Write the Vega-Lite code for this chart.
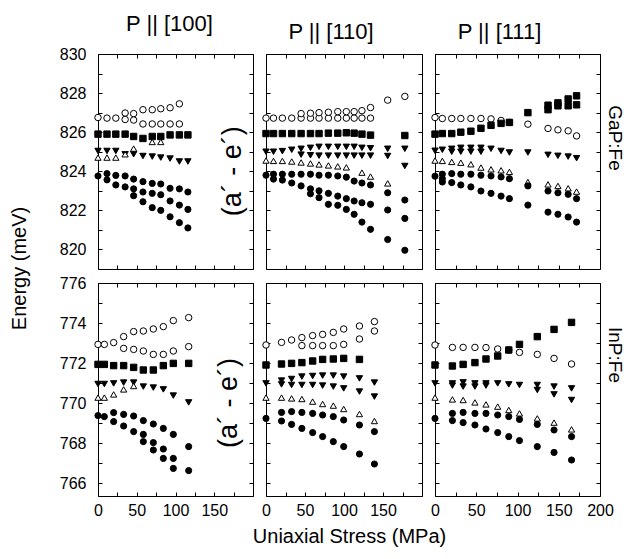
{
"$schema": "https://vega.github.io/schema/vega-lite/v6.json",
"background": "white",
"padding": {"left": 8, "top": 12, "right": 8, "bottom": 10},
"config": {
 "view": {"stroke": "black", "strokeWidth": 1},
 "font": "Liberation Sans",
 "axis": {"grid": false, "domain": false, "tickColor": "black", "tickSize": -4, "labelColor": "black", "labelFontSize": 16, "labelFont": "Liberation Sans", "titleFont": "Liberation Sans", "titleFontWeight": "normal", "titleColor": "black", "titleFontSize": 20, "labelFlush": false},
 "axisLeft": {"labelPadding": 16},
 "axisBottom": {"labelPadding": 10},
 "title": {"font": "Liberation Sans", "fontWeight": "normal", "fontSize": 22, "color": "black", "frame": "group", "offset": 10},
 "text": {"font": "Liberation Sans", "color": "black"}
},
"datasets": {"d": [
{"p":"G100","s":"oc","x":0,"y":826.75},{"p":"G100","s":"oc","x":11.6,"y":826.72},{"p":"G100","s":"oc","x":23,"y":826.72},{"p":"G100","s":"oc","x":35,"y":826.98},{"p":"G100","s":"oc","x":46,"y":826.95},{"p":"G100","s":"oc","x":58,"y":827.15},{"p":"G100","s":"oc","x":70,"y":827.15},{"p":"G100","s":"oc","x":81,"y":827.2},{"p":"G100","s":"oc","x":93,"y":827.25},{"p":"G100","s":"oc","x":105,"y":827.45},
{"p":"G100","s":"oc","x":35,"y":826.65},{"p":"G100","s":"oc","x":46,"y":826.62},{"p":"G100","s":"oc","x":58,"y":826.42},{"p":"G100","s":"oc","x":70,"y":826.42},{"p":"G100","s":"oc","x":81,"y":826.42},{"p":"G100","s":"oc","x":93,"y":826.42},{"p":"G100","s":"oc","x":105,"y":826.42},
{"p":"G100","s":"sq","x":0,"y":825.9},{"p":"G100","s":"sq","x":11.6,"y":825.9},{"p":"G100","s":"sq","x":23,"y":825.9},{"p":"G100","s":"sq","x":35,"y":825.9},{"p":"G100","s":"sq","x":46,"y":825.78},{"p":"G100","s":"sq","x":58,"y":825.68},{"p":"G100","s":"sq","x":70,"y":825.78},{"p":"G100","s":"sq","x":81,"y":825.78},{"p":"G100","s":"sq","x":93,"y":825.86},{"p":"G100","s":"sq","x":105,"y":825.86},{"p":"G100","s":"sq","x":116,"y":825.86},
{"p":"G100","s":"td","x":0,"y":825.04},{"p":"G100","s":"td","x":11.6,"y":825.04},{"p":"G100","s":"td","x":23,"y":825.04},{"p":"G100","s":"td","x":35,"y":824.87},{"p":"G100","s":"td","x":46,"y":824.87},{"p":"G100","s":"td","x":58,"y":824.78},{"p":"G100","s":"td","x":70,"y":824.75},{"p":"G100","s":"td","x":81,"y":824.7},{"p":"G100","s":"td","x":93,"y":824.65},{"p":"G100","s":"td","x":105,"y":824.5},{"p":"G100","s":"td","x":116,"y":824.5},
{"p":"G100","s":"ot","x":0,"y":824.7},{"p":"G100","s":"ot","x":11.6,"y":824.7},{"p":"G100","s":"ot","x":23,"y":824.7},{"p":"G100","s":"ot","x":35,"y":824.87},{"p":"G100","s":"ot","x":46,"y":825.16},{"p":"G100","s":"ot","x":70,"y":825.5},{"p":"G100","s":"ot","x":81,"y":825.5},
{"p":"G100","s":"fc","x":0,"y":823.76},{"p":"G100","s":"fc","x":11.6,"y":823.88},{"p":"G100","s":"fc","x":23,"y":823.79},{"p":"G100","s":"fc","x":35,"y":823.76},{"p":"G100","s":"fc","x":46,"y":823.6},{"p":"G100","s":"fc","x":58,"y":823.47},{"p":"G100","s":"fc","x":70,"y":823.38},{"p":"G100","s":"fc","x":81,"y":823.35},{"p":"G100","s":"fc","x":93,"y":823.13},{"p":"G100","s":"fc","x":105,"y":823.1},{"p":"G100","s":"fc","x":116,"y":822.94},
{"p":"G100","s":"fc","x":11.6,"y":823.56},{"p":"G100","s":"fc","x":23,"y":823.3},{"p":"G100","s":"fc","x":35,"y":823.2},{"p":"G100","s":"fc","x":46,"y":823.1},{"p":"G100","s":"fc","x":58,"y":822.94},{"p":"G100","s":"fc","x":70,"y":822.87},{"p":"G100","s":"fc","x":81,"y":822.8},{"p":"G100","s":"fc","x":93,"y":822.48},{"p":"G100","s":"fc","x":105,"y":822.27},{"p":"G100","s":"fc","x":116,"y":822.05},
{"p":"G100","s":"fc","x":46,"y":822.75},{"p":"G100","s":"fc","x":58,"y":822.44},{"p":"G100","s":"fc","x":70,"y":822.14},{"p":"G100","s":"fc","x":81,"y":822.0},{"p":"G100","s":"fc","x":93,"y":821.67},{"p":"G100","s":"fc","x":105,"y":821.37},{"p":"G100","s":"fc","x":116,"y":821.1},

{"p":"G110","s":"oc","x":0,"y":826.72},{"p":"G110","s":"oc","x":9.6,"y":826.72},{"p":"G110","s":"oc","x":21,"y":826.72},{"p":"G110","s":"oc","x":33,"y":826.72},{"p":"G110","s":"oc","x":45,"y":826.72},{"p":"G110","s":"oc","x":57,"y":826.72},{"p":"G110","s":"oc","x":68,"y":826.72},{"p":"G110","s":"oc","x":80,"y":826.72},{"p":"G110","s":"oc","x":92,"y":826.72},{"p":"G110","s":"oc","x":103,"y":826.72},{"p":"G110","s":"oc","x":113,"y":826.72},{"p":"G110","s":"oc","x":123,"y":826.72},{"p":"G110","s":"oc","x":134,"y":826.72},
{"p":"G110","s":"oc","x":45,"y":826.95},{"p":"G110","s":"oc","x":57,"y":826.97},{"p":"G110","s":"oc","x":68,"y":827.0},{"p":"G110","s":"oc","x":80,"y":827.02},{"p":"G110","s":"oc","x":92,"y":827.05},{"p":"G110","s":"oc","x":103,"y":827.05},{"p":"G110","s":"oc","x":113,"y":827.05},{"p":"G110","s":"oc","x":123,"y":827.1},{"p":"G110","s":"oc","x":134,"y":827.26},{"p":"G110","s":"oc","x":156,"y":827.64},{"p":"G110","s":"oc","x":178,"y":827.83},
{"p":"G110","s":"sq","x":0,"y":825.93},{"p":"G110","s":"sq","x":9.6,"y":825.93},{"p":"G110","s":"sq","x":21,"y":825.93},{"p":"G110","s":"sq","x":33,"y":825.93},{"p":"G110","s":"sq","x":45,"y":825.93},{"p":"G110","s":"sq","x":57,"y":825.93},{"p":"G110","s":"sq","x":68,"y":825.93},{"p":"G110","s":"sq","x":80,"y":825.95},{"p":"G110","s":"sq","x":92,"y":825.95},{"p":"G110","s":"sq","x":103,"y":825.97},{"p":"G110","s":"sq","x":113,"y":825.95},{"p":"G110","s":"sq","x":123,"y":825.9},{"p":"G110","s":"sq","x":134,"y":825.85},{"p":"G110","s":"sq","x":178,"y":825.83},
{"p":"G110","s":"td","x":0,"y":825.0},{"p":"G110","s":"td","x":9.6,"y":825.0},{"p":"G110","s":"td","x":21,"y":825.03},{"p":"G110","s":"td","x":33,"y":825.1},{"p":"G110","s":"td","x":45,"y":825.15},{"p":"G110","s":"td","x":57,"y":825.2},{"p":"G110","s":"td","x":68,"y":825.25},{"p":"G110","s":"td","x":80,"y":825.25},{"p":"G110","s":"td","x":92,"y":825.25},{"p":"G110","s":"td","x":103,"y":825.25},{"p":"G110","s":"td","x":113,"y":825.25},{"p":"G110","s":"td","x":123,"y":825.2},{"p":"G110","s":"td","x":134,"y":825.18},{"p":"G110","s":"td","x":156,"y":825.15},{"p":"G110","s":"td","x":178,"y":825.15},
{"p":"G110","s":"td","x":45,"y":824.85},{"p":"G110","s":"td","x":57,"y":824.82},{"p":"G110","s":"td","x":68,"y":824.8},{"p":"G110","s":"td","x":80,"y":824.8},{"p":"G110","s":"td","x":92,"y":824.8},{"p":"G110","s":"td","x":103,"y":824.8},{"p":"G110","s":"td","x":113,"y":824.8},{"p":"G110","s":"td","x":123,"y":824.8},{"p":"G110","s":"td","x":134,"y":824.8},{"p":"G110","s":"td","x":156,"y":824.78},{"p":"G110","s":"td","x":178,"y":824.27},
{"p":"G110","s":"ot","x":0,"y":824.55},{"p":"G110","s":"ot","x":9.6,"y":824.53},{"p":"G110","s":"ot","x":21,"y":824.53},{"p":"G110","s":"ot","x":33,"y":824.5},{"p":"G110","s":"ot","x":45,"y":824.45},{"p":"G110","s":"ot","x":57,"y":824.4},{"p":"G110","s":"ot","x":68,"y":824.35},{"p":"G110","s":"ot","x":80,"y":824.3},{"p":"G110","s":"ot","x":92,"y":824.25},{"p":"G110","s":"ot","x":103,"y":824.2},{"p":"G110","s":"ot","x":123,"y":823.93},{"p":"G110","s":"ot","x":134,"y":823.73},{"p":"G110","s":"ot","x":156,"y":823.38},
{"p":"G110","s":"fc","x":0,"y":823.8},{"p":"G110","s":"fc","x":9.6,"y":823.85},{"p":"G110","s":"fc","x":21,"y":823.85},{"p":"G110","s":"fc","x":33,"y":823.85},{"p":"G110","s":"fc","x":45,"y":823.85},{"p":"G110","s":"fc","x":57,"y":823.85},{"p":"G110","s":"fc","x":68,"y":823.8},{"p":"G110","s":"fc","x":80,"y":823.8},{"p":"G110","s":"fc","x":92,"y":823.76},{"p":"G110","s":"fc","x":103,"y":823.7},{"p":"G110","s":"fc","x":113,"y":823.5},{"p":"G110","s":"fc","x":123,"y":823.4},{"p":"G110","s":"fc","x":134,"y":823.3},{"p":"G110","s":"fc","x":156,"y":822.9},{"p":"G110","s":"fc","x":178,"y":822.53},
{"p":"G110","s":"fc","x":9.6,"y":823.6},{"p":"G110","s":"fc","x":21,"y":823.55},{"p":"G110","s":"fc","x":33,"y":823.4},{"p":"G110","s":"fc","x":45,"y":823.25},{"p":"G110","s":"fc","x":57,"y":823.1},{"p":"G110","s":"fc","x":68,"y":823.0},{"p":"G110","s":"fc","x":80,"y":822.87},{"p":"G110","s":"fc","x":92,"y":822.73},{"p":"G110","s":"fc","x":103,"y":822.6},{"p":"G110","s":"fc","x":113,"y":822.48},{"p":"G110","s":"fc","x":123,"y":822.39},{"p":"G110","s":"fc","x":134,"y":822.31},{"p":"G110","s":"fc","x":156,"y":822.02},{"p":"G110","s":"fc","x":178,"y":821.59},
{"p":"G110","s":"fc","x":57,"y":822.85},{"p":"G110","s":"fc","x":68,"y":822.65},{"p":"G110","s":"fc","x":80,"y":822.31},{"p":"G110","s":"fc","x":92,"y":822.26},{"p":"G110","s":"fc","x":103,"y":822.05},{"p":"G110","s":"fc","x":113,"y":821.8},{"p":"G110","s":"fc","x":123,"y":821.4},{"p":"G110","s":"fc","x":134,"y":821.03},{"p":"G110","s":"fc","x":156,"y":820.51},{"p":"G110","s":"fc","x":178,"y":819.96},

{"p":"G111","s":"oc","x":0,"y":826.75},{"p":"G111","s":"oc","x":8.9,"y":826.7},{"p":"G111","s":"oc","x":20.3,"y":826.7},{"p":"G111","s":"oc","x":31.3,"y":826.7},{"p":"G111","s":"oc","x":43.5,"y":826.7},{"p":"G111","s":"oc","x":55.7,"y":826.7},{"p":"G111","s":"oc","x":67.9,"y":826.68},{"p":"G111","s":"oc","x":80.1,"y":826.6},{"p":"G111","s":"oc","x":90.2,"y":826.5},{"p":"G111","s":"oc","x":112.6,"y":826.41},{"p":"G111","s":"oc","x":137,"y":826.19},{"p":"G111","s":"oc","x":149,"y":826.12},{"p":"G111","s":"oc","x":161.4,"y":826.07},{"p":"G111","s":"oc","x":171.6,"y":825.81},
{"p":"G111","s":"sq","x":0,"y":825.9},{"p":"G111","s":"sq","x":8.9,"y":825.93},{"p":"G111","s":"sq","x":20.3,"y":825.93},{"p":"G111","s":"sq","x":31.3,"y":826.0},{"p":"G111","s":"sq","x":43.5,"y":826.05},{"p":"G111","s":"sq","x":55.7,"y":826.2},{"p":"G111","s":"sq","x":67.9,"y":826.35},{"p":"G111","s":"sq","x":80.1,"y":826.45},{"p":"G111","s":"sq","x":90.2,"y":826.5},{"p":"G111","s":"sq","x":112.6,"y":827.0},{"p":"G111","s":"sq","x":137,"y":827.15},{"p":"G111","s":"sq","x":137,"y":827.38},{"p":"G111","s":"sq","x":149,"y":827.35},{"p":"G111","s":"sq","x":149,"y":827.5},{"p":"G111","s":"sq","x":161.4,"y":827.35},{"p":"G111","s":"sq","x":161.4,"y":827.7},{"p":"G111","s":"sq","x":171.6,"y":827.4},{"p":"G111","s":"sq","x":171.6,"y":827.86},
{"p":"G111","s":"td","x":0,"y":825.05},{"p":"G111","s":"td","x":8.9,"y":825.1},{"p":"G111","s":"td","x":20.3,"y":825.15},{"p":"G111","s":"td","x":31.3,"y":825.2},{"p":"G111","s":"td","x":43.5,"y":825.2},{"p":"G111","s":"td","x":55.7,"y":825.2},{"p":"G111","s":"td","x":67.9,"y":825.15},{"p":"G111","s":"td","x":80.1,"y":825.04},{"p":"G111","s":"td","x":90.2,"y":824.96},{"p":"G111","s":"td","x":112.6,"y":824.96},{"p":"G111","s":"td","x":137,"y":824.84},{"p":"G111","s":"td","x":149,"y":824.79},{"p":"G111","s":"td","x":161.4,"y":824.75},{"p":"G111","s":"td","x":171.6,"y":824.67},{"p":"G111","s":"td","x":20.3,"y":825.0},{"p":"G111","s":"td","x":31.3,"y":825.0},{"p":"G111","s":"td","x":43.5,"y":825.0},{"p":"G111","s":"td","x":55.7,"y":825.0},
{"p":"G111","s":"ot","x":0,"y":824.55},{"p":"G111","s":"ot","x":8.9,"y":824.53},{"p":"G111","s":"ot","x":20.3,"y":824.48},{"p":"G111","s":"ot","x":31.3,"y":824.44},{"p":"G111","s":"ot","x":43.5,"y":824.36},{"p":"G111","s":"ot","x":55.7,"y":824.19},{"p":"G111","s":"ot","x":67.9,"y":824.1},{"p":"G111","s":"ot","x":80.1,"y":824.05},{"p":"G111","s":"ot","x":90.2,"y":823.97},{"p":"G111","s":"ot","x":112.6,"y":823.45},{"p":"G111","s":"ot","x":137,"y":823.33},{"p":"G111","s":"ot","x":149,"y":823.25},{"p":"G111","s":"ot","x":161.4,"y":823.13},{"p":"G111","s":"ot","x":171.6,"y":822.96},
{"p":"G111","s":"fc","x":0,"y":823.75},{"p":"G111","s":"fc","x":8.9,"y":823.85},{"p":"G111","s":"fc","x":20.3,"y":823.88},{"p":"G111","s":"fc","x":31.3,"y":823.85},{"p":"G111","s":"fc","x":43.5,"y":823.85},{"p":"G111","s":"fc","x":55.7,"y":823.8},{"p":"G111","s":"fc","x":67.9,"y":823.76},{"p":"G111","s":"fc","x":80.1,"y":823.71},{"p":"G111","s":"fc","x":90.2,"y":823.62},{"p":"G111","s":"fc","x":112.6,"y":823.25},{"p":"G111","s":"fc","x":137,"y":822.99},{"p":"G111","s":"fc","x":149,"y":822.9},{"p":"G111","s":"fc","x":161.4,"y":822.82},{"p":"G111","s":"fc","x":171.6,"y":822.6},
{"p":"G111","s":"fc","x":8.9,"y":823.62},
{"p":"G111","s":"fc","x":8.9,"y":823.45},{"p":"G111","s":"fc","x":20.3,"y":823.42},{"p":"G111","s":"fc","x":31.3,"y":823.3},{"p":"G111","s":"fc","x":43.5,"y":823.2},{"p":"G111","s":"fc","x":55.7,"y":822.99},{"p":"G111","s":"fc","x":67.9,"y":822.87},{"p":"G111","s":"fc","x":80.1,"y":822.73},{"p":"G111","s":"fc","x":90.2,"y":822.6},{"p":"G111","s":"fc","x":112.6,"y":822.27},{"p":"G111","s":"fc","x":137,"y":821.91},{"p":"G111","s":"fc","x":149,"y":821.8},{"p":"G111","s":"fc","x":161.4,"y":821.66},{"p":"G111","s":"fc","x":171.6,"y":821.4},

{"p":"I100","s":"oc","x":0,"y":772.93},{"p":"I100","s":"oc","x":8.2,"y":772.93},{"p":"I100","s":"oc","x":20.2,"y":773.02},{"p":"I100","s":"oc","x":33.1,"y":773.32},{"p":"I100","s":"oc","x":46,"y":773.57},{"p":"I100","s":"oc","x":58.5,"y":773.6},{"p":"I100","s":"oc","x":71.4,"y":773.7},{"p":"I100","s":"oc","x":84.3,"y":773.82},{"p":"I100","s":"oc","x":97.2,"y":774.12},{"p":"I100","s":"oc","x":117,"y":774.27},
{"p":"I100","s":"oc","x":33.1,"y":772.73},{"p":"I100","s":"oc","x":46,"y":772.68},{"p":"I100","s":"oc","x":58.5,"y":772.6},{"p":"I100","s":"oc","x":71.4,"y":772.43},{"p":"I100","s":"oc","x":84.3,"y":772.43},{"p":"I100","s":"oc","x":97.2,"y":772.6},{"p":"I100","s":"oc","x":117,"y":772.82},
{"p":"I100","s":"sq","x":0,"y":771.93},{"p":"I100","s":"sq","x":8.2,"y":771.93},{"p":"I100","s":"sq","x":20.2,"y":771.87},{"p":"I100","s":"sq","x":33.1,"y":771.87},{"p":"I100","s":"sq","x":46,"y":771.78},{"p":"I100","s":"sq","x":58.5,"y":771.65},{"p":"I100","s":"sq","x":71.4,"y":771.65},{"p":"I100","s":"sq","x":84.3,"y":771.87},{"p":"I100","s":"sq","x":97.2,"y":771.98},{"p":"I100","s":"sq","x":117,"y":771.98},
{"p":"I100","s":"td","x":0,"y":770.95},{"p":"I100","s":"td","x":8.2,"y":770.95},{"p":"I100","s":"td","x":20.2,"y":770.98},{"p":"I100","s":"td","x":33.1,"y":771.02},{"p":"I100","s":"td","x":46,"y":771.02},{"p":"I100","s":"td","x":58.5,"y":770.82},{"p":"I100","s":"td","x":71.4,"y":770.77},{"p":"I100","s":"td","x":84.3,"y":770.68},{"p":"I100","s":"td","x":97.2,"y":770.37},{"p":"I100","s":"td","x":117,"y":770.03},
{"p":"I100","s":"ot","x":0,"y":770.27},{"p":"I100","s":"ot","x":8.2,"y":770.27},{"p":"I100","s":"ot","x":20.2,"y":770.43},{"p":"I100","s":"ot","x":33.1,"y":770.68},{"p":"I100","s":"ot","x":46,"y":770.85},
{"p":"I100","s":"fc","x":0,"y":769.37},{"p":"I100","s":"fc","x":8.2,"y":769.32},{"p":"I100","s":"fc","x":20.2,"y":769.52},{"p":"I100","s":"fc","x":20.2,"y":769.07},{"p":"I100","s":"fc","x":33.1,"y":769.43},{"p":"I100","s":"fc","x":33.1,"y":768.85},{"p":"I100","s":"fc","x":46,"y":769.35},{"p":"I100","s":"fc","x":46,"y":768.57},{"p":"I100","s":"fc","x":58.5,"y":769.12},{"p":"I100","s":"fc","x":58.5,"y":768.43},{"p":"I100","s":"fc","x":58.5,"y":768.07},{"p":"I100","s":"fc","x":71.4,"y":768.95},{"p":"I100","s":"fc","x":71.4,"y":768.02},{"p":"I100","s":"fc","x":71.4,"y":767.65},{"p":"I100","s":"fc","x":84.3,"y":768.73},{"p":"I100","s":"fc","x":84.3,"y":767.7},{"p":"I100","s":"fc","x":84.3,"y":767.23},{"p":"I100","s":"fc","x":97.2,"y":768.43},{"p":"I100","s":"fc","x":97.2,"y":767.23},{"p":"I100","s":"fc","x":97.2,"y":766.73},{"p":"I100","s":"fc","x":117,"y":767.82},{"p":"I100","s":"fc","x":117,"y":766.62},

{"p":"I110","s":"oc","x":0,"y":772.9},{"p":"I110","s":"oc","x":19.9,"y":773.03},{"p":"I110","s":"oc","x":32.8,"y":773.15},{"p":"I110","s":"oc","x":46,"y":773.27},{"p":"I110","s":"oc","x":59.8,"y":773.37},{"p":"I110","s":"oc","x":72.6,"y":773.43},{"p":"I110","s":"oc","x":86.3,"y":773.53},{"p":"I110","s":"oc","x":99.6,"y":773.7},{"p":"I110","s":"oc","x":119.8,"y":773.85},{"p":"I110","s":"oc","x":139,"y":774.07},
{"p":"I110","s":"oc","x":46,"y":772.87},{"p":"I110","s":"oc","x":59.8,"y":772.87},{"p":"I110","s":"oc","x":72.6,"y":772.87},{"p":"I110","s":"oc","x":86.3,"y":772.87},{"p":"I110","s":"oc","x":99.6,"y":772.93},{"p":"I110","s":"oc","x":119.8,"y":773.2},{"p":"I110","s":"oc","x":139,"y":773.6},
{"p":"I110","s":"sq","x":0,"y":771.9},{"p":"I110","s":"sq","x":19.9,"y":771.95},{"p":"I110","s":"sq","x":32.8,"y":771.98},{"p":"I110","s":"sq","x":46,"y":772.02},{"p":"I110","s":"sq","x":59.8,"y":772.1},{"p":"I110","s":"sq","x":72.6,"y":772.18},{"p":"I110","s":"sq","x":86.3,"y":772.2},{"p":"I110","s":"sq","x":99.6,"y":772.23},{"p":"I110","s":"sq","x":119.8,"y":772.18},
{"p":"I110","s":"td","x":19.9,"y":771.12},{"p":"I110","s":"td","x":32.8,"y":771.2},{"p":"I110","s":"td","x":46,"y":771.32},{"p":"I110","s":"td","x":59.8,"y":771.35},{"p":"I110","s":"td","x":72.6,"y":771.37},{"p":"I110","s":"td","x":86.3,"y":771.37},{"p":"I110","s":"td","x":99.6,"y":771.32},{"p":"I110","s":"td","x":119.8,"y":771.23},{"p":"I110","s":"td","x":139,"y":771.02},
{"p":"I110","s":"td","x":0,"y":770.98},{"p":"I110","s":"td","x":19.9,"y":770.93},{"p":"I110","s":"td","x":32.8,"y":770.9},{"p":"I110","s":"td","x":46,"y":770.9},{"p":"I110","s":"td","x":59.8,"y":770.9},{"p":"I110","s":"td","x":72.6,"y":770.87},{"p":"I110","s":"td","x":86.3,"y":770.82},{"p":"I110","s":"td","x":99.6,"y":770.73},{"p":"I110","s":"td","x":119.8,"y":770.57},{"p":"I110","s":"td","x":139,"y":770.32},
{"p":"I110","s":"ot","x":0,"y":770.27},{"p":"I110","s":"ot","x":19.9,"y":770.27},{"p":"I110","s":"ot","x":32.8,"y":770.23},{"p":"I110","s":"ot","x":46,"y":770.2},{"p":"I110","s":"ot","x":59.8,"y":770.07},{"p":"I110","s":"ot","x":72.6,"y":769.95},{"p":"I110","s":"ot","x":86.3,"y":769.87},{"p":"I110","s":"ot","x":99.6,"y":769.7},{"p":"I110","s":"ot","x":119.8,"y":769.45},{"p":"I110","s":"ot","x":139,"y":769.1},
{"p":"I110","s":"fc","x":0,"y":769.23},{"p":"I110","s":"fc","x":19.9,"y":769.53},{"p":"I110","s":"fc","x":32.8,"y":769.57},{"p":"I110","s":"fc","x":46,"y":769.53},{"p":"I110","s":"fc","x":59.8,"y":769.48},{"p":"I110","s":"fc","x":72.6,"y":769.4},{"p":"I110","s":"fc","x":86.3,"y":769.32},{"p":"I110","s":"fc","x":99.6,"y":769.15},{"p":"I110","s":"fc","x":119.8,"y":768.9},{"p":"I110","s":"fc","x":139,"y":768.57},
{"p":"I110","s":"fc","x":19.9,"y":769.1},{"p":"I110","s":"fc","x":32.8,"y":768.93},{"p":"I110","s":"fc","x":46,"y":768.73},{"p":"I110","s":"fc","x":59.8,"y":768.52},{"p":"I110","s":"fc","x":72.6,"y":768.32},{"p":"I110","s":"fc","x":86.3,"y":768.07},{"p":"I110","s":"fc","x":99.6,"y":767.82},{"p":"I110","s":"fc","x":119.8,"y":767.45},{"p":"I110","s":"fc","x":139,"y":766.95},

{"p":"I111","s":"oc","x":0,"y":772.9},{"p":"I111","s":"oc","x":21.1,"y":772.78},{"p":"I111","s":"oc","x":34.1,"y":772.78},{"p":"I111","s":"oc","x":48.4,"y":772.78},{"p":"I111","s":"oc","x":61.8,"y":772.77},{"p":"I111","s":"oc","x":76,"y":772.7},{"p":"I111","s":"oc","x":89.4,"y":772.65},{"p":"I111","s":"oc","x":102.4,"y":772.53},{"p":"I111","s":"oc","x":124,"y":772.43},{"p":"I111","s":"oc","x":144.3,"y":772.23},{"p":"I111","s":"oc","x":165.5,"y":771.95},
{"p":"I111","s":"sq","x":0,"y":771.9},{"p":"I111","s":"sq","x":21.1,"y":771.85},{"p":"I111","s":"sq","x":34.1,"y":771.93},{"p":"I111","s":"sq","x":48.4,"y":772.02},{"p":"I111","s":"sq","x":61.8,"y":772.2},{"p":"I111","s":"sq","x":76,"y":772.35},{"p":"I111","s":"sq","x":89.4,"y":772.65},{"p":"I111","s":"sq","x":102.4,"y":772.93},{"p":"I111","s":"sq","x":124,"y":773.32},{"p":"I111","s":"sq","x":144.3,"y":773.68},{"p":"I111","s":"sq","x":165.5,"y":774.03},
{"p":"I111","s":"td","x":0,"y":770.98},{"p":"I111","s":"td","x":21.1,"y":770.98},{"p":"I111","s":"td","x":21.1,"y":770.87},{"p":"I111","s":"td","x":34.1,"y":771.03},{"p":"I111","s":"td","x":34.1,"y":770.82},{"p":"I111","s":"td","x":48.4,"y":770.98},{"p":"I111","s":"td","x":48.4,"y":770.82},{"p":"I111","s":"td","x":61.8,"y":770.98},{"p":"I111","s":"td","x":61.8,"y":770.87},{"p":"I111","s":"td","x":76,"y":770.98},{"p":"I111","s":"td","x":89.4,"y":770.93},{"p":"I111","s":"td","x":102.4,"y":770.9},{"p":"I111","s":"td","x":124,"y":770.9},{"p":"I111","s":"td","x":124,"y":770.65},{"p":"I111","s":"td","x":144.3,"y":770.82},{"p":"I111","s":"td","x":144.3,"y":770.43},{"p":"I111","s":"td","x":165.5,"y":770.73},{"p":"I111","s":"td","x":165.5,"y":770.15},
{"p":"I111","s":"ot","x":0,"y":770.27},{"p":"I111","s":"ot","x":21.1,"y":770.18},{"p":"I111","s":"ot","x":34.1,"y":770.15},{"p":"I111","s":"ot","x":48.4,"y":770.03},{"p":"I111","s":"ot","x":61.8,"y":769.93},{"p":"I111","s":"ot","x":76,"y":769.82},{"p":"I111","s":"ot","x":89.4,"y":769.65},{"p":"I111","s":"ot","x":102.4,"y":769.48},{"p":"I111","s":"ot","x":124,"y":769.23},{"p":"I111","s":"ot","x":144.3,"y":769.02},{"p":"I111","s":"ot","x":165.5,"y":768.68},
{"p":"I111","s":"fc","x":0,"y":769.23},{"p":"I111","s":"fc","x":21.1,"y":769.48},{"p":"I111","s":"fc","x":34.1,"y":769.53},{"p":"I111","s":"fc","x":48.4,"y":769.48},{"p":"I111","s":"fc","x":61.8,"y":769.48},{"p":"I111","s":"fc","x":76,"y":769.4},{"p":"I111","s":"fc","x":89.4,"y":769.32},{"p":"I111","s":"fc","x":102.4,"y":769.18},{"p":"I111","s":"fc","x":124,"y":768.93},{"p":"I111","s":"fc","x":144.3,"y":768.65},{"p":"I111","s":"fc","x":165.5,"y":768.32},
{"p":"I111","s":"fc","x":21.1,"y":769.12},{"p":"I111","s":"fc","x":34.1,"y":769.02},{"p":"I111","s":"fc","x":48.4,"y":768.9},{"p":"I111","s":"fc","x":61.8,"y":768.7},{"p":"I111","s":"fc","x":76,"y":768.52},{"p":"I111","s":"fc","x":89.4,"y":768.32},{"p":"I111","s":"fc","x":102.4,"y":768.12},{"p":"I111","s":"fc","x":124,"y":767.82},{"p":"I111","s":"fc","x":144.3,"y":767.53},{"p":"I111","s":"fc","x":165.5,"y":767.15}
]},
"bounds": "flush",
"align": "each",
"columns": 3,
"spacing": {"row": 14, "column": 13},
"concat": [
 {"width": 155, "height": 215, "title": {"text": "P || [100]", "dx": -6},
  "resolve": {"axis": {"x": "independent", "y": "independent"}},
  "layer": [
   {"data": {"name": "d"}, "transform": [{"filter": "datum.p=='G100'"}],
    "mark": {"type": "point", "filled": true, "opacity": 1, "stroke": "black", "strokeWidth": 1},
    "encoding": {
     "x": {"field": "x", "type": "quantitative", "scale": {"domain": [0, 200], "nice": false}, "axis": {"orient": "bottom", "values": [0,25,50,75,100,125,150,175,200], "labels": false, "title": null}},
     "y": {"field": "y", "type": "quantitative", "scale": {"domain": [819, 830], "nice": false, "zero": false}, "axis": {"orient": "left", "values": [820,821,822,823,824,825,826,827,828,829,830], "labelExpr": "datum.value % 2 == 0 ? datum.label : ''", "title": "Energy (meV)", "titleX": -79, "titleY": 214, "titleBaseline": "middle", "titleAlign": "center", "titleAngle": 270}},
     "shape": {"field": "s", "type": "nominal", "scale": {"domain": ["oc","sq","td","ot","fc"], "range": ["circle","square","triangle-down","triangle-up","circle"]}, "legend": null},
     "fill": {"field": "s", "type": "nominal", "scale": {"domain": ["oc","sq","td","ot","fc"], "range": ["white","black","black","white","black"]}, "legend": null},
     "size": {"field": "s", "type": "nominal", "scale": {"domain": ["oc","sq","td","ot","fc"], "range": [42,38,50,46,46]}, "legend": null}
    }},
   {"data": {"values": [{}]}, "mark": {"type": "point", "opacity": 0},
    "encoding": {"x": {"datum": 100, "type": "quantitative", "axis": {"orient": "top", "values": [0,25,50,75,100,125,150,175,200], "labels": false, "title": null}},
     "y": {"datum": 825, "type": "quantitative", "axis": {"orient": "right", "values": [820,821,822,823,824,825,826,827,828,829,830], "labels": false, "title": null}}}},
   {"data": {"values": [{"t": "(a´ - e´)"}]}, "mark": {"type": "text", "angle": 270, "fontSize": 27, "align": "center", "baseline": "middle"},
    "encoding": {"x": {"datum": 174, "type": "quantitative", "axis": null}, "y": {"datum": 824.0, "type": "quantitative", "axis": null}, "text": {"field": "t"}}}
  ]},
 {"width": 156, "height": 215, "title": {"text": "P || [110]", "dx": -13},
  "resolve": {"axis": {"x": "independent", "y": "independent"}},
  "layer": [
   {"data": {"name": "d"}, "transform": [{"filter": "datum.p=='G110'"}],
    "mark": {"type": "point", "filled": true, "opacity": 1, "stroke": "black", "strokeWidth": 1},
    "encoding": {
     "x": {"field": "x", "type": "quantitative", "scale": {"domain": [0, 200], "nice": false}, "axis": {"orient": "bottom", "values": [0,25,50,75,100,125,150,175,200], "labels": false, "title": null}},
     "y": {"field": "y", "type": "quantitative", "scale": {"domain": [819, 830], "nice": false, "zero": false}, "axis": {"orient": "left", "values": [820,821,822,823,824,825,826,827,828,829,830], "labels": false, "title": null}},
     "shape": {"field": "s", "type": "nominal", "scale": {"domain": ["oc","sq","td","ot","fc"], "range": ["circle","square","triangle-down","triangle-up","circle"]}, "legend": null},
     "fill": {"field": "s", "type": "nominal", "scale": {"domain": ["oc","sq","td","ot","fc"], "range": ["white","black","black","white","black"]}, "legend": null},
     "size": {"field": "s", "type": "nominal", "scale": {"domain": ["oc","sq","td","ot","fc"], "range": [42,38,50,46,46]}, "legend": null}
    }},
   {"data": {"values": [{}]}, "mark": {"type": "point", "opacity": 0},
    "encoding": {"x": {"datum": 100, "type": "quantitative", "axis": {"orient": "top", "values": [0,25,50,75,100,125,150,175,200], "labels": false, "title": null}},
     "y": {"datum": 825, "type": "quantitative", "axis": {"orient": "right", "values": [820,821,822,823,824,825,826,827,828,829,830], "labels": false, "title": null}}}}
  ]},
 {"width": 165, "height": 215, "title": {"text": "P || [111]", "dx": -18},
  "resolve": {"axis": {"x": "independent", "y": "independent"}},
  "layer": [
   {"data": {"name": "d"}, "transform": [{"filter": "datum.p=='G111'"}],
    "mark": {"type": "point", "filled": true, "opacity": 1, "stroke": "black", "strokeWidth": 1},
    "encoding": {
     "x": {"field": "x", "type": "quantitative", "scale": {"domain": [0, 200], "nice": false}, "axis": {"orient": "bottom", "values": [0,25,50,75,100,125,150,175,200], "labels": false, "title": null}},
     "y": {"field": "y", "type": "quantitative", "scale": {"domain": [819, 830], "nice": false, "zero": false}, "axis": {"orient": "left", "values": [820,821,822,823,824,825,826,827,828,829,830], "labels": false, "title": null}},
     "shape": {"field": "s", "type": "nominal", "scale": {"domain": ["oc","sq","td","ot","fc"], "range": ["circle","square","triangle-down","triangle-up","circle"]}, "legend": null},
     "fill": {"field": "s", "type": "nominal", "scale": {"domain": ["oc","sq","td","ot","fc"], "range": ["white","black","black","white","black"]}, "legend": null},
     "size": {"field": "s", "type": "nominal", "scale": {"domain": ["oc","sq","td","ot","fc"], "range": [42,38,50,46,46]}, "legend": null}
    }},
   {"data": {"values": [{}]}, "mark": {"type": "point", "opacity": 0},
    "encoding": {"x": {"datum": 100, "type": "quantitative", "axis": {"orient": "top", "values": [0,25,50,75,100,125,150,175,200], "labels": false, "title": null}},
     "y": {"datum": 825, "type": "quantitative", "axis": {"orient": "right", "values": [820,821,822,823,824,825,826,827,828,829,830], "labels": false, "title": null}}}},
   {"data": {"values": [{"t": "GaP:Fe"}]}, "mark": {"type": "text", "angle": 90, "fontSize": 19, "align": "center", "baseline": "middle"},
    "encoding": {"x": {"datum": 218, "type": "quantitative", "axis": null}, "y": {"datum": 825.7, "type": "quantitative", "axis": null}, "text": {"field": "t"}}}
  ]},
 {"width": 155, "height": 213,
  "resolve": {"axis": {"x": "independent", "y": "independent"}},
  "layer": [
   {"data": {"name": "d"}, "transform": [{"filter": "datum.p=='I100'"}],
    "mark": {"type": "point", "filled": true, "opacity": 1, "stroke": "black", "strokeWidth": 1},
    "encoding": {
     "x": {"field": "x", "type": "quantitative", "scale": {"domain": [0, 200], "nice": false}, "axis": {"orient": "bottom", "values": [0,25,50,75,100,125,150,175,200], "labelExpr": "datum.value % 50 == 0 && datum.value < 200 ? datum.label : ''", "title": null}},
     "y": {"field": "y", "type": "quantitative", "scale": {"domain": [765.35, 776], "nice": false, "zero": false}, "axis": {"orient": "left", "values": [766,767,768,769,770,771,772,773,774,775,776], "labelExpr": "datum.value % 2 == 0 ? datum.label : ''", "title": null}},
     "shape": {"field": "s", "type": "nominal", "scale": {"domain": ["oc","sq","td","ot","fc"], "range": ["circle","square","triangle-down","triangle-up","circle"]}, "legend": null},
     "fill": {"field": "s", "type": "nominal", "scale": {"domain": ["oc","sq","td","ot","fc"], "range": ["white","black","black","white","black"]}, "legend": null},
     "size": {"field": "s", "type": "nominal", "scale": {"domain": ["oc","sq","td","ot","fc"], "range": [42,38,50,46,46]}, "legend": null}
    }},
   {"data": {"values": [{}]}, "mark": {"type": "point", "opacity": 0},
    "encoding": {"x": {"datum": 100, "type": "quantitative", "axis": {"orient": "top", "values": [0,25,50,75,100,125,150,175,200], "labels": false, "title": null}},
     "y": {"datum": 770, "type": "quantitative", "axis": {"orient": "right", "values": [766,767,768,769,770,771,772,773,774,775,776], "labels": false, "title": null}}}},
   {"data": {"values": [{"t": "(a´ - e´)"}]}, "mark": {"type": "text", "angle": 270, "fontSize": 27, "align": "center", "baseline": "middle"},
    "encoding": {"x": {"datum": 169, "type": "quantitative", "axis": null}, "y": {"datum": 770.0, "type": "quantitative", "axis": null}, "text": {"field": "t"}}}
  ]},
 {"width": 156, "height": 213,
  "resolve": {"axis": {"x": "independent", "y": "independent"}},
  "layer": [
   {"data": {"name": "d"}, "transform": [{"filter": "datum.p=='I110'"}],
    "mark": {"type": "point", "filled": true, "opacity": 1, "stroke": "black", "strokeWidth": 1},
    "encoding": {
     "x": {"field": "x", "type": "quantitative", "scale": {"domain": [0, 200], "nice": false}, "axis": {"orient": "bottom", "values": [0,25,50,75,100,125,150,175,200], "labelExpr": "datum.value % 50 == 0 && datum.value < 200 ? datum.label : ''", "title": "Uniaxial Stress (MPa)", "titleX": 83, "titleY": 30, "titleBaseline": "top", "titleAlign": "center"}},
     "y": {"field": "y", "type": "quantitative", "scale": {"domain": [765.35, 776], "nice": false, "zero": false}, "axis": {"orient": "left", "values": [766,767,768,769,770,771,772,773,774,775,776], "labels": false, "title": null}},
     "shape": {"field": "s", "type": "nominal", "scale": {"domain": ["oc","sq","td","ot","fc"], "range": ["circle","square","triangle-down","triangle-up","circle"]}, "legend": null},
     "fill": {"field": "s", "type": "nominal", "scale": {"domain": ["oc","sq","td","ot","fc"], "range": ["white","black","black","white","black"]}, "legend": null},
     "size": {"field": "s", "type": "nominal", "scale": {"domain": ["oc","sq","td","ot","fc"], "range": [42,38,50,46,46]}, "legend": null}
    }},
   {"data": {"values": [{}]}, "mark": {"type": "point", "opacity": 0},
    "encoding": {"x": {"datum": 100, "type": "quantitative", "axis": {"orient": "top", "values": [0,25,50,75,100,125,150,175,200], "labels": false, "title": null}},
     "y": {"datum": 770, "type": "quantitative", "axis": {"orient": "right", "values": [766,767,768,769,770,771,772,773,774,775,776], "labels": false, "title": null}}}}
  ]},
 {"width": 165, "height": 213,
  "resolve": {"axis": {"x": "independent", "y": "independent"}},
  "layer": [
   {"data": {"name": "d"}, "transform": [{"filter": "datum.p=='I111'"}],
    "mark": {"type": "point", "filled": true, "opacity": 1, "stroke": "black", "strokeWidth": 1},
    "encoding": {
     "x": {"field": "x", "type": "quantitative", "scale": {"domain": [0, 200], "nice": false}, "axis": {"orient": "bottom", "values": [0,25,50,75,100,125,150,175,200], "labelExpr": "datum.value % 50 == 0 ? datum.label : ''", "title": null}},
     "y": {"field": "y", "type": "quantitative", "scale": {"domain": [765.35, 776], "nice": false, "zero": false}, "axis": {"orient": "left", "values": [766,767,768,769,770,771,772,773,774,775,776], "labels": false, "title": null}},
     "shape": {"field": "s", "type": "nominal", "scale": {"domain": ["oc","sq","td","ot","fc"], "range": ["circle","square","triangle-down","triangle-up","circle"]}, "legend": null},
     "fill": {"field": "s", "type": "nominal", "scale": {"domain": ["oc","sq","td","ot","fc"], "range": ["white","black","black","white","black"]}, "legend": null},
     "size": {"field": "s", "type": "nominal", "scale": {"domain": ["oc","sq","td","ot","fc"], "range": [42,38,50,46,46]}, "legend": null}
    }},
   {"data": {"values": [{}]}, "mark": {"type": "point", "opacity": 0},
    "encoding": {"x": {"datum": 100, "type": "quantitative", "axis": {"orient": "top", "values": [0,25,50,75,100,125,150,175,200], "labels": false, "title": null}},
     "y": {"datum": 770, "type": "quantitative", "axis": {"orient": "right", "values": [766,767,768,769,770,771,772,773,774,775,776], "labels": false, "title": null}}}},
   {"data": {"values": [{"t": "InP:Fe"}]}, "mark": {"type": "text", "angle": 90, "fontSize": 19, "align": "center", "baseline": "middle"},
    "encoding": {"x": {"datum": 218, "type": "quantitative", "axis": null}, "y": {"datum": 772.4, "type": "quantitative", "axis": null}, "text": {"field": "t"}}}
  ]}
]
}
